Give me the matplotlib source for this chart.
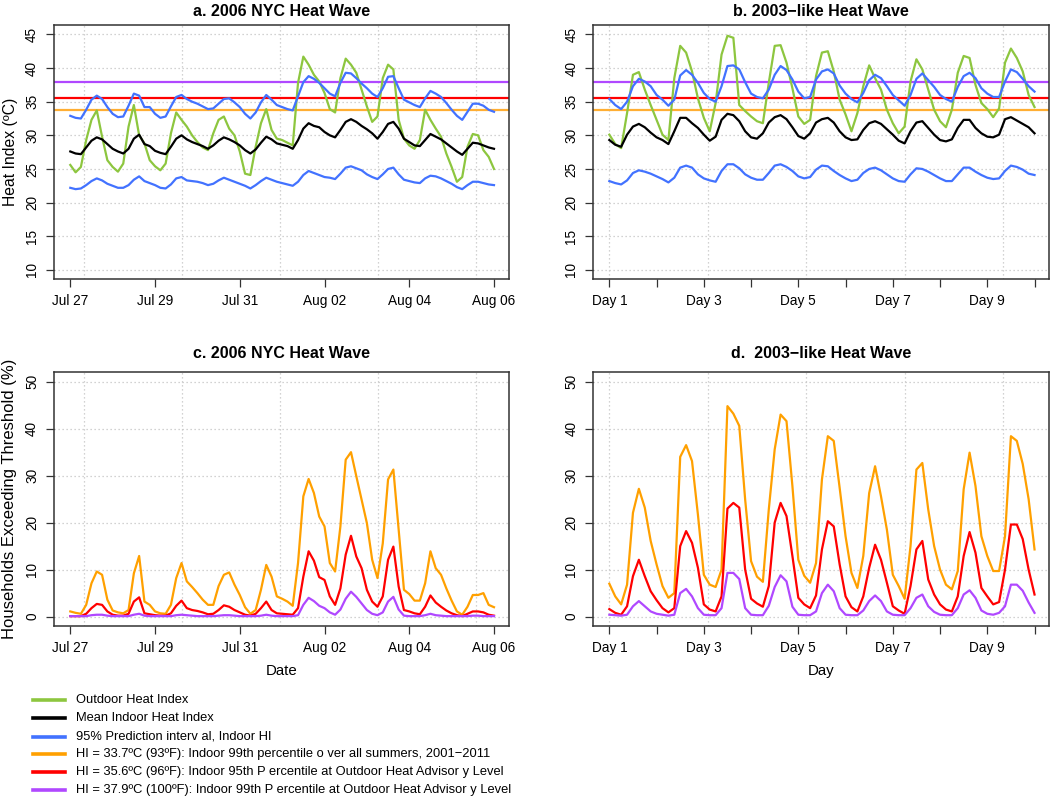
import numpy as np
import matplotlib
matplotlib.use("Agg")
import matplotlib.pyplot as plt
from matplotlib.lines import Line2D

plt.rcParams['font.family'] = ['Liberation Sans', 'DejaVu Sans']

# ---------------- data ----------------
# hours since start (panel a/c: Jul 27 00:00 ... Aug 06 00:00, 3-hourly)
hours_nyc = list(range(0, 241, 3))
# hours since start of Day 1 (panel b/d, 3-hourly)
hours_2003 = list(range(0, 217, 3))

nyc_tick_hours = [0, 48, 96, 144, 192, 240]
nyc_tick_labels = ["Jul 27", "Jul 29", "Jul 31", "Aug 02", "Aug 04", "Aug 06"]
day_tick_hours = [0, 24, 48, 72, 96, 120, 144, 168, 192, 216]
day_tick_labels = ["Day 1", "", "Day 3", "", "Day 5", "", "Day 7", "", "Day 9", ""]

thresholds = [33.7, 35.6, 37.9]

nyc_outdoor = [
    25.6, 24.5, 25.3, 29.3, 32.3, 33.7, 29.8, 26.3, 25.3, 24.6,
    25.8, 31.3, 34.5, 30.0, 28.8, 26.3, 25.4, 24.8, 25.8, 30.3,
    33.4, 32.3, 31.3, 30.0, 29.0, 28.2, 27.8, 30.3, 32.3, 32.8,
    31.0, 30.0, 27.6, 24.3, 24.1, 28.3, 31.8, 33.9, 30.8, 29.5,
    29.3, 28.9, 28.5, 37.8, 41.7, 40.5, 39.0, 38.0, 36.3, 33.9,
    33.4, 38.5, 41.4, 40.5, 39.3, 36.8, 34.3, 32.0, 32.8, 38.5,
    40.5, 39.8, 32.3, 29.5, 28.5, 28.0, 29.3, 33.8, 32.3, 31.0,
    29.8, 27.3, 25.3, 23.1, 23.8, 28.3, 30.2, 30.0, 27.8, 26.8, 25.0]
nyc_indoor = [
    27.6, 27.3, 27.2, 28.2, 29.2, 29.7, 29.4, 28.7, 28.0, 27.6,
    27.3, 28.0, 29.5, 30.1, 28.7, 28.4, 27.7, 27.4, 27.2, 28.3,
    29.5, 30.0, 29.4, 29.0, 28.7, 28.4, 28.0, 28.5, 29.2, 29.7,
    29.4, 29.0, 28.5, 27.8, 27.3, 27.9, 28.9, 29.8, 29.4, 28.8,
    28.6, 28.4, 28.0, 29.3, 31.0, 31.8, 31.4, 31.2, 30.5, 30.0,
    29.7, 30.8, 32.0, 32.4, 32.0, 31.4, 30.9, 30.3, 29.5, 30.5,
    31.7, 32.0, 31.0, 29.5, 29.0, 28.5, 28.4, 29.3, 30.2, 29.8,
    29.4, 28.8, 28.2, 27.6, 27.1, 28.0, 28.9, 28.8, 28.5, 28.2, 28.0]
nyc_upper = [
    32.9, 32.6, 32.5, 33.8, 35.3, 35.9, 35.4, 34.2, 33.2, 32.7,
    32.8, 34.4, 36.2, 35.9, 34.2, 34.2, 33.2, 32.6, 32.8, 34.3,
    35.7, 36.0, 35.4, 35.0, 34.7, 34.3, 33.9, 34.0, 34.7, 35.4,
    35.5, 34.9, 34.2, 33.2, 32.5, 33.4, 34.9, 36.0, 35.3, 34.5,
    34.2, 33.9, 33.7, 35.8, 37.9, 38.8, 38.4, 37.8, 37.0, 36.2,
    35.8, 37.8, 39.3, 39.2, 38.5, 37.7, 37.0, 36.2, 35.7, 37.0,
    38.7, 38.8, 37.0, 35.3, 34.9, 34.5, 34.2, 35.5, 36.6, 36.2,
    35.7, 34.8, 33.8, 32.9, 32.3, 33.5, 34.7, 34.7, 34.4, 33.8, 33.5]
nyc_lower = [
    22.2, 22.0, 22.1, 22.6, 23.2, 23.6, 23.3, 22.8, 22.5, 22.2,
    22.2, 22.6, 23.4, 23.9, 23.2, 22.9, 22.6, 22.2, 22.1, 22.7,
    23.6, 23.8, 23.3, 23.2, 23.1, 22.9, 22.6, 22.8, 23.3, 23.7,
    23.4, 23.1, 22.8, 22.5, 22.1, 22.6, 23.2, 23.7, 23.4, 23.1,
    22.9, 22.7, 22.5, 23.1, 24.1, 24.7, 24.4, 24.1, 23.8, 23.7,
    23.5, 24.3, 25.2, 25.4, 25.1, 24.8, 24.2, 23.8, 23.5, 24.2,
    25.0, 25.2, 24.2, 23.4, 23.2, 23.0, 22.9, 23.6, 24.0, 23.9,
    23.6, 23.2, 22.8, 22.3, 22.0, 22.6, 23.1, 23.1, 22.9, 22.7, 22.6]

like03_outdoor = [
    30.1, 28.7, 28.1, 33.3, 39.0, 39.4, 36.8, 34.5, 32.3, 30.1,
    29.3, 38.5, 43.3, 42.3, 39.5, 35.5, 32.6, 30.6, 34.8, 42.0,
    44.8, 44.5, 34.5, 33.6, 32.8, 32.1, 31.8, 37.8, 43.3, 43.4,
    40.8, 37.0, 32.8, 31.7, 32.3, 38.8, 42.3, 42.5, 39.5, 35.3,
    33.1, 30.6, 33.3, 37.3, 40.4, 38.5, 36.8, 33.8, 31.8, 30.3,
    31.3, 38.0, 41.3, 39.8, 36.8, 33.8, 32.1, 31.2, 33.8, 39.3,
    41.8, 41.5, 37.5, 34.8, 33.9, 32.7, 34.0, 40.8, 42.9, 41.5,
    39.5, 36.0, 34.2]
like03_indoor = [
    29.3, 28.6, 28.3, 30.1, 31.3, 31.7, 31.2, 30.4, 29.7, 29.3,
    28.7, 30.6, 32.6, 32.6, 31.8, 31.1, 30.1, 29.2, 29.8, 32.3,
    33.2, 33.0, 32.1, 30.6, 29.7, 29.5, 30.3, 31.9, 32.7, 33.0,
    32.4, 31.2, 29.9, 29.5, 30.3, 31.9, 32.4, 32.6, 31.9, 30.6,
    29.7, 29.3, 29.4, 30.8, 31.8, 32.1, 31.7, 30.9, 30.1, 29.2,
    28.8, 30.6, 31.9, 32.1, 31.1, 30.1, 29.3, 29.1, 29.4, 31.1,
    32.3, 32.3, 31.1, 30.3, 29.8, 29.7, 30.1, 32.4, 32.7, 32.2,
    31.7, 31.2, 30.3]
like03_upper = [
    35.4, 34.5, 33.9, 35.0, 37.3, 38.4, 38.0, 37.3, 36.0, 35.3,
    34.4, 35.3, 38.9, 39.7, 39.0, 37.8, 36.3, 35.4, 35.0, 37.3,
    40.3, 40.4, 39.8, 37.9, 36.2, 35.7, 35.5, 36.8, 39.0, 40.3,
    39.7, 38.3, 36.5, 35.5, 35.7, 38.3, 39.5, 39.8, 39.2, 37.4,
    36.2, 35.4, 34.9, 36.3, 38.2, 39.0, 38.5, 37.3, 36.0, 35.2,
    34.4, 36.0, 38.4, 39.2, 38.2, 37.2, 36.0, 35.4, 35.0, 37.2,
    38.8, 39.3, 38.5, 37.0, 36.2, 35.7, 35.7, 38.0, 39.8, 39.4,
    38.4, 37.3, 36.5]
like03_lower = [
    23.2, 22.9, 22.7, 23.3, 24.4, 24.8, 24.6, 24.3, 23.9, 23.5,
    23.0, 23.7, 25.2, 25.5, 25.2, 24.2, 23.6, 23.3, 23.1, 24.7,
    25.7, 25.7, 25.1, 24.2, 23.7, 23.4, 23.4, 24.4, 25.5, 25.7,
    25.3, 24.7, 23.9, 23.6, 23.8, 24.9, 25.5, 25.4, 24.7, 24.1,
    23.6, 23.2, 23.4, 24.4, 25.0, 25.2, 24.8, 24.2, 23.6, 23.2,
    23.1, 24.2, 25.1, 25.0, 24.6, 24.1, 23.6, 23.2, 23.2, 24.2,
    25.2, 25.2, 24.6, 24.1, 23.7, 23.5, 23.6, 24.7, 25.5, 25.3,
    24.9, 24.3, 24.1]

nyc_pct_337 = [
    1.1, 0.8, 0.6, 2.5, 7.1, 9.6, 8.9, 3.6, 1.3, 0.9,
    0.7, 1.4, 9.2, 12.9, 3.2, 2.5, 1.1, 0.7, 0.6, 2.5,
    8.2, 11.4, 7.5, 6.3, 5.0, 3.6, 2.5, 2.5, 6.5, 8.9,
    9.4, 6.8, 4.6, 2.0, 0.6, 1.4, 5.7, 11.0, 8.5, 4.3,
    3.8, 3.2, 2.3, 11.4, 25.6, 29.3, 26.3, 21.3, 19.2, 11.4,
    9.6, 19.2, 33.4, 35.0, 29.9, 24.9, 19.9, 12.1, 8.2, 15.6,
    29.2, 31.3, 18.5, 5.7, 4.8, 3.4, 3.4, 7.1, 13.9, 10.3,
    8.9, 6.0, 3.4, 1.1, 0.4, 2.1, 4.6, 4.6, 5.0, 2.5, 2.0]
nyc_pct_356 = [
    0.1, 0.1, 0.1, 0.6, 1.8, 2.7, 2.5, 1.1, 0.4, 0.2,
    0.2, 0.6, 3.2, 4.1, 0.7, 0.5, 0.3, 0.2, 0.2, 0.7,
    2.3, 3.4, 1.8, 1.4, 1.2, 0.9, 0.5, 0.6, 1.4, 2.4,
    2.1, 1.4, 0.9, 0.4, 0.2, 0.6, 1.8, 3.2, 1.4, 0.7,
    0.6, 0.5, 0.4, 1.8, 8.5, 13.9, 11.9, 8.4, 7.8, 4.3,
    2.5, 6.0, 13.2, 17.2, 12.8, 10.3, 5.7, 3.2, 2.1, 4.3,
    12.1, 14.9, 6.4, 1.4, 1.1, 0.7, 0.5, 2.1, 4.5, 3.0,
    2.1, 1.3, 0.7, 0.3, 0.1, 0.6, 1.1, 1.1, 0.9, 0.4, 0.2]
nyc_pct_379 = [
    0.1, 0.1, 0.1, 0.1, 0.3, 0.4, 0.4, 0.2, 0.1, 0.1,
    0.1, 0.1, 0.4, 0.6, 0.2, 0.1, 0.1, 0.1, 0.1, 0.1,
    0.3, 0.4, 0.3, 0.2, 0.1, 0.1, 0.1, 0.1, 0.2, 0.3,
    0.3, 0.2, 0.1, 0.1, 0.1, 0.1, 0.2, 0.4, 0.2, 0.1,
    0.1, 0.1, 0.1, 0.3, 2.5, 4.0, 3.3, 2.3, 1.8, 0.9,
    0.4, 1.5, 3.8, 5.3, 4.2, 2.8, 1.4, 0.6, 0.3, 0.9,
    3.2, 4.2, 1.5, 0.2, 0.1, 0.1, 0.1, 0.3, 0.6, 0.3,
    0.2, 0.1, 0.1, 0.1, 0.1, 0.1, 0.2, 0.2, 0.1, 0.1, 0.1]

like03_pct_337 = [
    7.0, 4.3, 2.6, 6.8, 22.1, 27.2, 23.2, 16.1, 11.1, 6.5,
    4.0, 5.0, 34.0, 36.5, 33.1, 21.7, 8.9, 6.8, 6.3, 10.0,
    44.8, 43.2, 40.6, 24.9, 11.8, 8.5, 7.4, 22.8, 35.6, 43.0,
    41.6, 27.8, 12.1, 8.7, 7.2, 11.4, 29.2, 38.4, 37.4, 27.4,
    17.1, 9.3, 6.1, 12.9, 26.3, 32.0, 25.6, 18.5, 8.9, 6.5,
    3.8, 15.0, 31.3, 32.7, 22.8, 15.0, 10.0, 6.8, 5.8, 9.7,
    27.1, 34.9, 27.8, 17.1, 12.9, 9.7, 9.7, 17.1, 38.4, 37.4,
    32.5, 25.0, 14.3]
like03_pct_356 = [
    1.6, 0.8, 0.4, 2.2, 8.6, 12.1, 8.6, 5.4, 3.5, 1.8,
    0.9, 1.8, 15.0, 18.2, 15.7, 10.4, 2.6, 1.5, 1.1, 4.3,
    23.0, 24.2, 23.2, 10.0, 3.8, 2.8, 2.1, 6.5, 20.0, 24.2,
    21.4, 12.9, 4.0, 2.6, 1.8, 4.5, 14.3, 20.3, 19.2, 11.1,
    4.3, 2.0, 1.1, 4.3, 10.4, 15.3, 12.1, 7.2, 2.2, 1.3,
    0.6, 6.5, 14.3, 16.1, 7.9, 4.7, 2.6, 1.5, 1.1, 4.3,
    12.9, 18.0, 13.6, 6.1, 4.3, 2.6, 3.1, 10.0, 19.6, 19.6,
    16.5, 10.0, 4.7]
like03_pct_379 = [
    0.4, 0.3, 0.2, 0.4, 2.2, 3.3, 2.2, 1.1, 0.6, 0.4,
    0.2, 0.4, 5.0, 5.9, 4.3, 1.8, 0.4, 0.3, 0.3, 1.8,
    9.3, 9.3, 8.0, 1.8, 0.4, 0.3, 0.3, 2.3, 6.3, 8.8,
    7.5, 2.1, 0.4, 0.3, 0.3, 1.1, 5.0, 6.8, 5.4, 1.8,
    0.4, 0.3, 0.3, 1.3, 3.3, 4.5, 3.3, 1.1, 0.4, 0.3,
    0.3, 1.8, 4.0, 4.7, 2.2, 1.0, 0.4, 0.3, 0.3, 1.8,
    4.7, 5.6, 4.0, 1.3, 0.6, 0.4, 0.8, 2.2, 6.8, 6.8,
    5.5, 3.0, 0.8]

legend_labels = [
    "Outdoor Heat Index",
    "Mean Indoor Heat Index",
    "95% Prediction interv al, Indoor HI",
    "HI = 33.7\u00baC (93\u00baF): Indoor 99th percentile o ver all summers, 2001\u22122011",
    "HI = 35.6\u00baC (96\u00baF): Indoor 95th P ercentile at Outdoor Heat Advisor y Level",
    "HI = 37.9\u00baC (100\u00baF): Indoor 99th P ercentile at Outdoor Heat Advisor y Level",
]

# ---------------- style ----------------
C_GREEN = "#8DC63F"
C_BLACK = "#000000"
C_BLUE = "#4272FF"
C_ORANGE_LINE = "#FFAE33"
C_ORANGE = "#FFA000"
C_RED = "#FF0000"
C_PURPLE = "#B048FF"
LW = 1.6
GRID = dict(color="#c4c4c4", linestyle=(0, (1, 2.2)), linewidth=0.9)

W, H = 1050, 798
fig = plt.figure(figsize=(W / 100, H / 100), dpi=100)


def add_ax(l, t, r, b):
    return fig.add_axes([l / W, 1 - b / H, (r - l) / W, (b - t) / H])


ax_a = add_ax(53.7, 25, 509, 279.3)
ax_b = add_ax(593, 25, 1049.3, 279.3)
ax_c = add_ax(53.7, 372.3, 509, 626)
ax_d = add_ax(593, 372.3, 1049.3, 626)

# grid positions: R-style pretty ticks on the underlying time axis
nyc_grid = [7.556 + 55.556 * i for i in range(5)]
day_grid = [0, 50, 100, 150, 200]


def style(ax, xlim, ylim, yticks, xgrid, xticks, xlabels):
    ax.set_xlim(*xlim)
    ax.set_ylim(*ylim)
    for v in xgrid:
        ax.axvline(v, zorder=0, **GRID)
    for v in yticks:
        ax.axhline(v, zorder=0, **GRID)
    ax.set_yticks(yticks)
    ax.set_yticklabels([str(v) for v in yticks], rotation=90, va="center")
    ax.set_xticks(xticks)
    ax.set_xticklabels(xlabels)
    ax.tick_params(axis="both", length=5.5, width=0.9, labelsize=9.8,
                   pad=5, color="#333333")
    for s in ax.spines.values():
        s.set_linewidth(1.1)
        s.set_color("#333333")


# panel a
style(ax_a, (-9.4, 248.5), (8.6, 46.4), list(range(10, 46, 5)), nyc_grid,
      nyc_tick_hours, nyc_tick_labels)
ax_a.axhline(thresholds[0], color=C_ORANGE_LINE, lw=LW, zorder=1)
ax_a.axhline(thresholds[1], color=C_RED, lw=LW, zorder=1)
ax_a.axhline(thresholds[2], color=C_PURPLE, lw=LW, zorder=1)
ax_a.plot(hours_nyc, nyc_outdoor, color=C_GREEN, lw=LW, zorder=2)
ax_a.plot(hours_nyc, nyc_upper, color=C_BLUE, lw=LW, zorder=3)
ax_a.plot(hours_nyc, nyc_lower, color=C_BLUE, lw=LW, zorder=3)
ax_a.plot(hours_nyc, nyc_indoor, color=C_BLACK, lw=LW, zorder=4)

# panel b
style(ax_b, (-8.3, 223.5), (8.6, 46.4), list(range(10, 46, 5)), day_grid,
      day_tick_hours, day_tick_labels)
ax_b.axhline(thresholds[0], color=C_ORANGE_LINE, lw=LW, zorder=1)
ax_b.axhline(thresholds[1], color=C_RED, lw=LW, zorder=1)
ax_b.axhline(thresholds[2], color=C_PURPLE, lw=LW, zorder=1)
ax_b.plot(hours_2003, like03_outdoor, color=C_GREEN, lw=LW, zorder=2)
ax_b.plot(hours_2003, like03_upper, color=C_BLUE, lw=LW, zorder=3)
ax_b.plot(hours_2003, like03_lower, color=C_BLUE, lw=LW, zorder=3)
ax_b.plot(hours_2003, like03_indoor, color=C_BLACK, lw=LW, zorder=4)

# panel c
style(ax_c, (-9.4, 248.5), (-2, 52), list(range(0, 51, 10)), nyc_grid,
      nyc_tick_hours, nyc_tick_labels)
ax_c.plot(hours_nyc, nyc_pct_337, color=C_ORANGE, lw=LW, zorder=2)
ax_c.plot(hours_nyc, nyc_pct_356, color=C_RED, lw=LW, zorder=3)
ax_c.plot(hours_nyc, nyc_pct_379, color=C_PURPLE, lw=LW, zorder=4)

# panel d
style(ax_d, (-8.3, 223.5), (-2, 52), list(range(0, 51, 10)), day_grid,
      day_tick_hours, day_tick_labels)
ax_d.plot(hours_2003, like03_pct_337, color=C_ORANGE, lw=LW, zorder=2)
ax_d.plot(hours_2003, like03_pct_356, color=C_RED, lw=LW, zorder=3)
ax_d.plot(hours_2003, like03_pct_379, color=C_PURPLE, lw=LW, zorder=4)

# titles
TFS = 11.5
fig.text((53.7 + 509) / 2 / W, 1 - 11 / H, "a. 2006 NYC Heat Wave",
         ha="center", va="center", fontsize=TFS, fontweight="bold")
fig.text((593 + 1049.3) / 2 / W, 1 - 11 / H, "b. 2003\u2212like Heat Wave",
         ha="center", va="center", fontsize=TFS, fontweight="bold")
fig.text((53.7 + 509) / 2 / W, 1 - 354 / H, "c. 2006 NYC Heat Wave",
         ha="center", va="center", fontsize=TFS, fontweight="bold")
fig.text((593 + 1049.3) / 2 / W, 1 - 354 / H, "d.  2003\u2212like Heat Wave",
         ha="center", va="center", fontsize=TFS, fontweight="bold")

# axis labels
fig.text(10 / W, 1 - 152 / H, "Heat Index (\u00baC)", rotation=90,
         ha="center", va="center", fontsize=11.3)
fig.text(10 / W, 1 - 499 / H, "Households Exceeding Threshold (%)", rotation=90,
         ha="center", va="center", fontsize=12.0)
fig.text((53.7 + 509) / 2 / W, 1 - 671 / H, "Date", ha="center", va="center",
         fontsize=10.8)
fig.text((593 + 1049.3) / 2 / W, 1 - 671 / H, "Day", ha="center", va="center",
         fontsize=10.8)

# legend (drawn in figure coordinates)
leg_colors = [C_GREEN, C_BLACK, C_BLUE, C_ORANGE, C_RED, C_PURPLE]
leg_y = [700, 718, 736.5, 754, 772, 790]
for lab, col, yy in zip(legend_labels, leg_colors, leg_y):
    fig.add_artist(Line2D([33 / W, 65 / W], [1 - yy / H, 1 - yy / H],
                          color=col, lw=2.6, transform=fig.transFigure))
    fig.text(76 / W, 1 - yy / H, lab, ha="left", va="center", fontsize=9.3)

fig.savefig("out.png", dpi=100)
